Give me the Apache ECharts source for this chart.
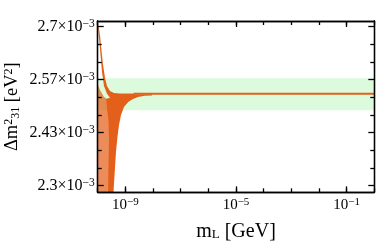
<!DOCTYPE html>
<html><head><meta charset="utf-8">
<script src="https://cdn.jsdelivr.net/npm/echarts@6/dist/echarts.min.js"></script>
<style>html,body{margin:0;padding:0;background:#fff}#c{width:382px;height:242px}</style>
</head><body><div id="c"></div>
<script>
// ---- data (x: m_L in GeV, y: Δm²31 in units of 1e-3 eV²) ----
const xTicks = [1e-10,1e-9,1e-8,1e-7,1e-6,1e-5,1e-4,1e-3,1e-2,1e-1,1];
const xLabels = [1e-9,1e-5,1e-1];
const yMajor = [2.3, 2.4333, 2.5667, 2.7];
const yMinor = [2.3444, 2.3889, 2.4778, 2.5222, 2.6111, 2.6556];
const bandLow = 2.49, bandHigh = 2.57;
const lineX = [2e-9, 1];
const lineY = [2.531, 2.531];
// upper branch envelope
const branchX = [1.03e-10,1.21e-10,1.37e-10,1.56e-10,1.84e-10,2.17e-10,2.78e-10,3.88e-10,6.4e-10,2.23e-9,
                 2.23e-9,9.7e-10,5.42e-10,3.88e-10,2.78e-10,2.17e-10,1.69e-10,1.43e-10,1.24e-10,1.11e-10,1.03e-10];
const branchY = [2.709,2.679,2.641,2.604,2.571,2.551,2.538,2.533,2.532,2.532,
                 2.528,2.526,2.522,2.518,2.521,2.531,2.551,2.586,2.636,2.672,2.697];
// dense fan envelope
const fanX = [2.0e-10,2.78e-10,3.88e-10,6.4e-10,1.24e-9,3.38e-9,9.2e-9,
              9.2e-9,5.1e-9,2.86e-9,1.89e-9,1.30e-9,8.9e-10,6.95e-10,5.89e-10,5.2e-10,4.58e-10,4.22e-10,3.72e-10,3.6e-10,
              2.36e-10,2.45e-10,2.56e-10,2.45e-10,2.17e-10];
const fanY = [2.518,2.521,2.523,2.526,2.529,2.530,2.530,
              2.527,2.526,2.523,2.518,2.511,2.498,2.478,2.453,2.423,2.385,2.345,2.284,2.27,
              2.27,2.352,2.415,2.465,2.495];
// sparse scatter region envelope
const sparseX = [1e-10,1.21e-10,1.69e-10,2.17e-10,2.9e-10,2.9e-10,1e-10];
const sparseY = [2.556,2.541,2.523,2.518,2.516,2.27,2.27];

const ORANGE = '#E4601A';
const FONT = 'Liberation Serif';

function polySeries(xs, ys, fill) {
  return {
    type: 'custom', coordinateSystem: 'cartesian2d', clip: true, silent: true,
    data: [[1e-9, 2.5]],
    renderItem: (params, api) => ({
      type: 'polygon',
      shape: { points: xs.map((x, i) => api.coord([x, ys[i]])) },
      style: { fill: fill, stroke: null }
    })
  };
}

const yMin = 2.2834, yMax = 2.7143, xMin = 1e-10, xMax = 1;
const supX = v => { const e = Math.round(Math.log10(v)); return '{b|10}{s|\u2212' + Math.abs(e) + '}'; };
const fmtY = v => '{b|' + parseFloat(v.toFixed(2)).toString() + '\u00d710}{s|\u22123}';
const richY = {
  b: { fontFamily: FONT, fontSize: 16, color: '#000', lineHeight: 18 },
  s: { fontFamily: FONT, fontSize: 11.5, color: '#000', verticalAlign: 'top', lineHeight: 11, padding: [0,0,6,0] }
};
const richX = {
  b: { fontFamily: FONT, fontSize: 15, color: '#000', lineHeight: 17 },
  s: { fontFamily: FONT, fontSize: 11, color: '#000', verticalAlign: 'top', lineHeight: 11, padding: [0,0,6,0] }
};

function xAx(pos, vals, len, label) {
  return {
    type: 'log', logBase: 10, min: xMin, max: xMax, position: pos, z: 5,
    axisLine: { show: true, onZero: false, lineStyle: { color: '#000', width: 1.3 } },
    axisTick: { show: true, inside: true, length: len, customValues: vals, lineStyle: { color: '#000', width: 1.3 } },
    axisLabel: label ? { show: true, customValues: xLabels, formatter: supX, rich: richX, margin: 4 } : { show: false },
    splitLine: { show: false }, minorTick: { show: false },
    name: label ? '{n|m}{u|L}{n| [GeV]}' : '', nameLocation: 'middle', nameGap: 29,
    nameTextStyle: { rich: {
      n: { fontFamily: FONT, fontSize: 20, color: '#000' },
      u: { fontFamily: FONT, fontSize: 13, color: '#000', verticalAlign: 'bottom', padding: [7,0,0,0] } } }
  };
}
function yAx(pos, vals, len, label) {
  return {
    type: 'value', min: yMin, max: yMax, position: pos, z: 5,
    axisLine: { show: true, onZero: false, lineStyle: { color: '#000', width: 1.3 } },
    axisTick: { show: true, inside: true, length: len, customValues: vals, lineStyle: { color: '#000', width: 1.3 } },
    axisLabel: label ? { show: true, customValues: yMajor, formatter: fmtY, rich: richY, margin: 3 } : { show: false },
    splitLine: { show: false },
    name: label ? '{n|\u0394m}{s|2}{u|31}{n| [eV}{s|2}{n|]}' : '', nameLocation: 'middle', nameGap: 76, nameRotate: 90,
    nameMoveOverlap: false,
    nameTextStyle: { rich: {
      n: { fontFamily: FONT, fontSize: 18.5, color: '#000' },
      s: { fontFamily: FONT, fontSize: 12, color: '#000', verticalAlign: 'top', padding: [0,0,6,0] },
      u: { fontFamily: FONT, fontSize: 12, color: '#000', verticalAlign: 'bottom', padding: [6,0,0,0] } } }
  };
}

const chart = echarts.init(document.getElementById('c'), null, { renderer: 'canvas' });
chart.setOption({
  animation: false,
  backgroundColor: '#fff',
  grid: { left: 97.7, right: 7.7, top: 21, bottom: 49.7, containLabel: false, outerBoundsMode: 'none' },
  xAxis: [ xAx('bottom', xLabels, 6, true), xAx('bottom', xTicks, 4, false),
           xAx('top', xLabels, 6, false), xAx('top', xTicks, 4, false) ],
  yAxis: [ yAx('left', yMajor, 6, true), yAx('left', yMinor, 4, false),
           yAx('right', yMajor, 6, false), yAx('right', yMinor, 4, false) ],
  series: [
    {
      type: 'line', xAxisIndex: 0, yAxisIndex: 0, symbol: 'none', silent: true,
      data: lineX.map((x, i) => [x, lineY[i]]),
      lineStyle: { color: ORANGE, width: 2 },
      markArea: { silent: true, itemStyle: { color: '#DCFADC', opacity: 1 },
        data: [[{ yAxis: bandLow }, { yAxis: bandHigh }]] }
    },
    polySeries(sparseX, sparseY, 'rgba(228,96,26,0.72)'),
    polySeries(fanX, fanY, ORANGE),
    polySeries(branchX, branchY, ORANGE)
  ]
});
</script></body></html>
